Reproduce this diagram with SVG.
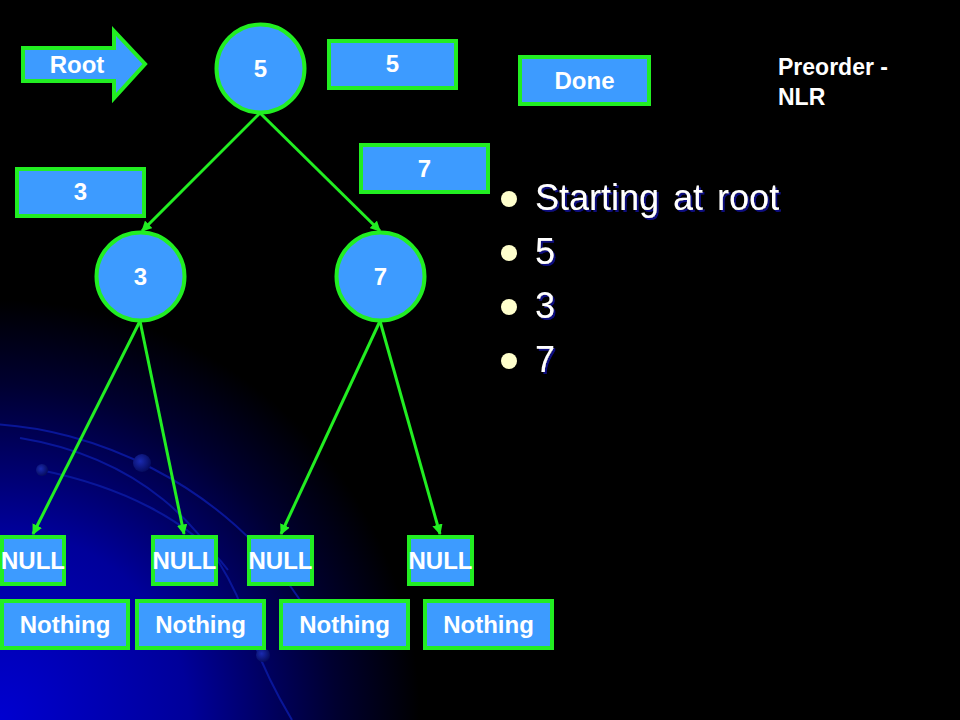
<svg xmlns="http://www.w3.org/2000/svg" width="960" height="720" viewBox="0 0 960 720">
<defs>
<radialGradient id="bg" gradientUnits="userSpaceOnUse" cx="0" cy="720" r="420">
<stop offset="0" stop-color="#0000d0"/>
<stop offset="0.45" stop-color="#00009a"/>
<stop offset="0.8" stop-color="#000030"/>
<stop offset="1" stop-color="#000000"/>
</radialGradient>
<radialGradient id="dot" cx="0.4" cy="0.4" r="0.6">
<stop offset="0" stop-color="#1a2ab0"/>
<stop offset="1" stop-color="#060c60"/>
</radialGradient>
<filter id="sh" x="-5%" y="-20%" width="115%" height="150%">
<feDropShadow dx="2" dy="2" stdDeviation="0.6" flood-color="#0a0a80" flood-opacity="1"/>
</filter>
<marker id="ah" viewBox="0 0 10 10" refX="9" refY="5" markerWidth="3.5" markerHeight="3.5" orient="auto" markerUnits="strokeWidth">
<path d="M0,0 L10,5 L0,10 Z" fill="#22ee22"/>
</marker>
<style>
.box{fill:#3d9bff;stroke:#22ee22;stroke-width:4}
.t{font-family:"Liberation Sans",Arial,sans-serif;font-weight:bold;font-size:24px;fill:#ffffff;text-anchor:middle}
.tl{font-family:"Liberation Sans",Arial,sans-serif;font-weight:bold;font-size:23px;fill:#ffffff}
.edge{stroke:#22ee22;stroke-width:3;fill:none;marker-end:url(#ah)}
.arc{stroke:#0a18a0;stroke-width:2;fill:none;opacity:0.9}
.bt{font-family:"Liberation Sans",Arial,sans-serif;font-size:36px;fill:#ffffff;word-spacing:4px;filter:url(#sh)}
.bul{fill:#ffffcc}
</style>
</defs>
<rect x="0" y="0" width="960" height="720" fill="#000000"/>
<rect x="0" y="0" width="960" height="720" fill="url(#bg)"/>
<g id="decor">
<path class="arc" d="M-10,424 C90,428 220,480 300,600"/>
<path class="arc" d="M20,438 C130,456 215,520 250,630 C262,668 280,700 292,720"/>
<path class="arc" d="M40,470 C120,486 190,520 228,570"/>
<circle cx="142" cy="463" r="9" fill="url(#dot)"/>
<circle cx="42" cy="470" r="6" fill="url(#dot)"/>
<circle cx="263" cy="655" r="7" fill="url(#dot)"/>
</g>
<g id="connectors">
<line class="edge" x1="260" y1="113" x2="142" y2="231"/>
<line class="edge" x1="260" y1="113" x2="380" y2="231"/>
<line class="edge" x1="140" y1="321" x2="33" y2="534"/>
<line class="edge" x1="140" y1="321" x2="184" y2="534"/>
<line class="edge" x1="380" y1="321" x2="281" y2="534"/>
<line class="edge" x1="380" y1="321" x2="440" y2="534"/>
</g>
<g id="root-arrow">
<path class="box" d="M23,48 L114,48 L114,31 L145,64 L114,98 L114,81 L23,81 Z"/>
<text class="t" x="77" y="73">Root</text>
</g>
<g id="node5">
<circle class="box" cx="260.5" cy="68.5" r="44"/>
<text class="t" x="260.5" y="77">5</text>
</g>
<g id="node3">
<circle class="box" cx="140.5" cy="276.5" r="44"/>
<text class="t" x="140.5" y="285">3</text>
</g>
<g id="node7">
<circle class="box" cx="380.5" cy="276.5" r="44"/>
<text class="t" x="380.5" y="285">7</text>
</g>
<g id="label5">
<rect class="box" x="329" y="41" width="127" height="47"/>
<text class="t" x="392.5" y="72">5</text>
</g>
<g id="done">
<rect class="box" x="520" y="57" width="129" height="47"/>
<text class="t" x="584.5" y="89">Done</text>
</g>
<g id="label3">
<rect class="box" x="17" y="169" width="127" height="47"/>
<text class="t" x="80.5" y="200">3</text>
</g>
<g id="label7">
<rect class="box" x="361" y="145" width="127" height="47"/>
<text class="t" x="424.5" y="177">7</text>
</g>
<g id="null1">
<rect class="box" x="2" y="537" width="62" height="47"/>
<text class="t" x="33" y="569">NULL</text>
</g>
<g id="null2">
<rect class="box" x="153" y="537" width="63" height="47"/>
<text class="t" x="184.5" y="569">NULL</text>
</g>
<g id="null3">
<rect class="box" x="249" y="537" width="63" height="47"/>
<text class="t" x="280.5" y="569">NULL</text>
</g>
<g id="null4">
<rect class="box" x="409" y="537" width="63" height="47"/>
<text class="t" x="440.5" y="569">NULL</text>
</g>
<g id="nothing1">
<rect class="box" x="2" y="601" width="126" height="47"/>
<text class="t" x="65" y="633">Nothing</text>
</g>
<g id="nothing2">
<rect class="box" x="137" y="601" width="127" height="47"/>
<text class="t" x="200.5" y="633">Nothing</text>
</g>
<g id="nothing3">
<rect class="box" x="281" y="601" width="127" height="47"/>
<text class="t" x="344.5" y="633">Nothing</text>
</g>
<g id="nothing4">
<rect class="box" x="425" y="601" width="127" height="47"/>
<text class="t" x="488.5" y="633">Nothing</text>
</g>
<g id="title">
<text class="tl" x="778" y="75">Preorder -</text>
<text class="tl" x="778" y="105">NLR</text>
</g>
<g id="bullets">
<circle class="bul" cx="509" cy="199" r="8"/>
<circle class="bul" cx="509" cy="253" r="8"/>
<circle class="bul" cx="509" cy="307" r="8"/>
<circle class="bul" cx="509" cy="361" r="8"/>
<text class="bt" x="535" y="210">Starting at root</text>
<text class="bt" x="535" y="264">5</text>
<text class="bt" x="535" y="318">3</text>
<text class="bt" x="535" y="372">7</text>
</g>
</svg>
